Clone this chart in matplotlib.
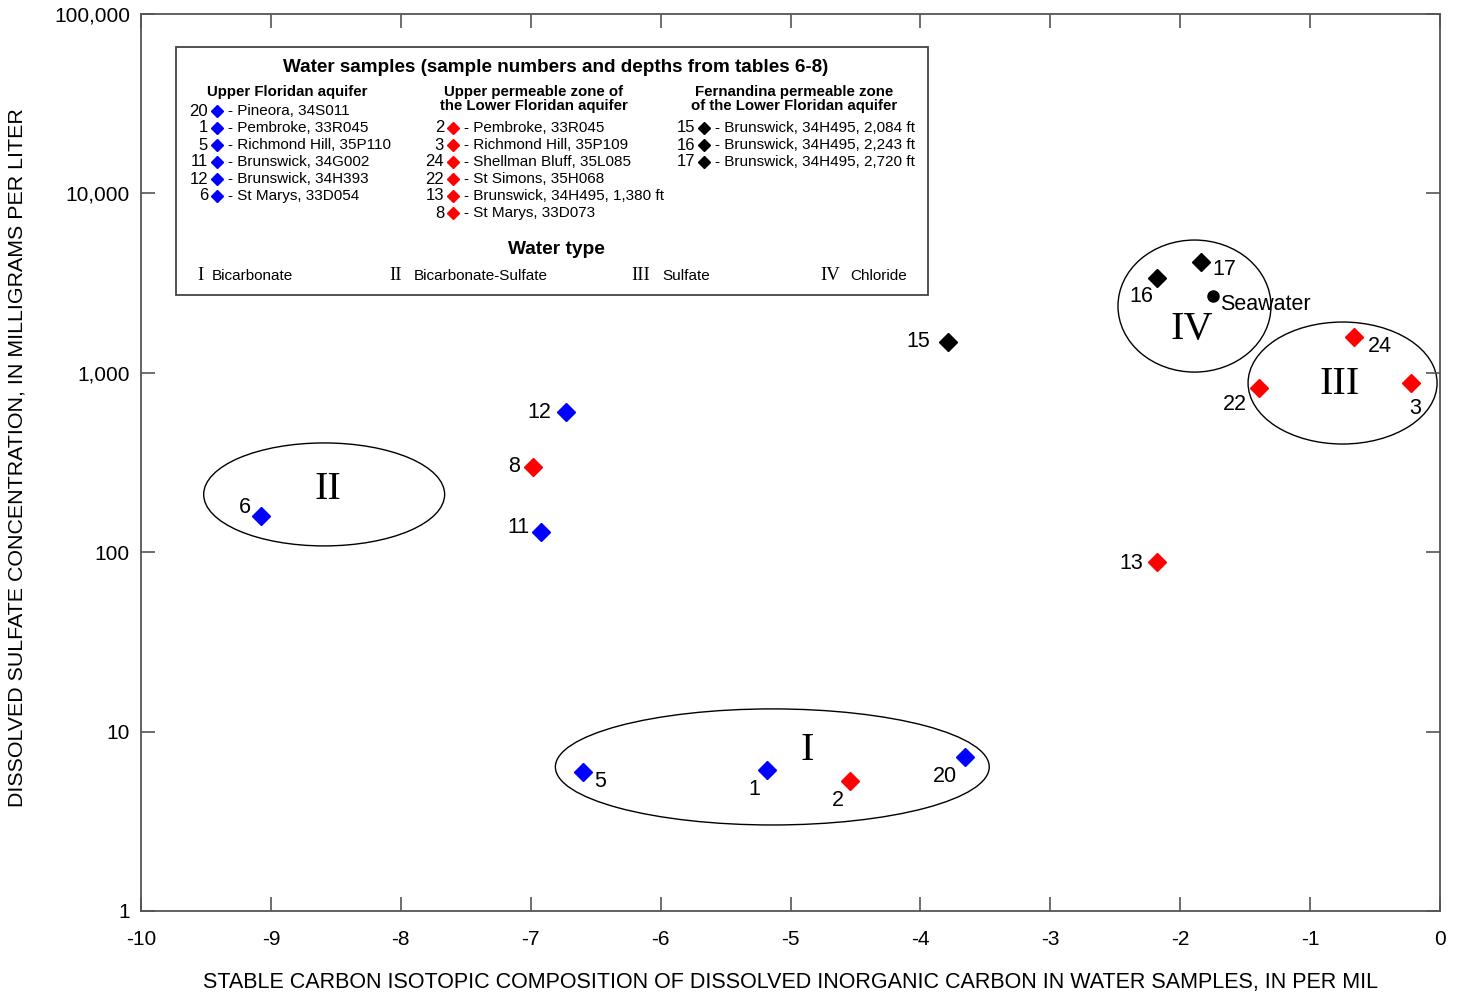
import numpy as np
import matplotlib
matplotlib.use("Agg")
import matplotlib.pyplot as plt
from matplotlib.patches import Ellipse, Rectangle
from matplotlib.transforms import Affine2D

plt.rcParams['font.family'] = ['Liberation Sans', 'DejaVu Sans']

# sample data: delta13C (per mil), sulfate (mg/L)
upper_ids = ["20", "1", "5", "11", "12", "6"]
upper_names = ["Pineora, 34S011", "Pembroke, 33R045", "Richmond Hill, 35P110",
               "Brunswick, 34G002", "Brunswick, 34H393", "St Marys, 33D054"]
upper_x = [-3.66, -5.18, -6.60, -6.92, -6.73, -9.08]
upper_y = [7.2, 6.1, 5.96, 130, 604, 159]

lower_ids = ["2", "3", "24", "22", "13", "8"]
lower_names = ["Pembroke, 33R045", "Richmond Hill, 35P109", "Shellman Bluff, 35L085",
               "St Simons, 35H068", "Brunswick, 34H495, 1,380 ft", "St Marys, 33D073"]
lower_x = [-4.54, -0.22, -0.66, -1.39, -2.18, -6.98]
lower_y = [5.3, 877, 1585, 823, 88, 298]

fern_ids = ["15", "16", "17"]
fern_names = ["Brunswick, 34H495, 2,084 ft", "Brunswick, 34H495, 2,243 ft",
              "Brunswick, 34H495, 2,720 ft"]
fern_x = [-3.79, -2.18, -1.84]
fern_y = [1485, 3377, 4150]

sea_x, sea_y = -1.75, 2680

# water-type groups: center x, center log10(y), width (per mil), height (decades)
types = ["I", "II", "III", "IV"]
type_names = ["Bicarbonate", "Bicarbonate-Sulfate", "Sulfate", "Chloride"]
ell_cx = [-5.14, -8.59, -0.75, -1.89]
ell_cy = [0.803, 2.322, 2.943, 3.372]
ell_w = [3.34, 1.855, 1.455, 1.178]
ell_h = [0.647, 0.574, 0.68, 0.736]
lab_x = [-4.87, -8.56, -0.77, -1.91]
lab_y = [0.897, 2.352, 2.932, 3.239]

# label offsets in pixels
offs = {"20": (-20, -19), "1": (-13, -19), "5": (17, -10), "2": (-12, -19),
        "6": (-16, 9), "12": (-26, 0), "8": (-19, 1), "11": (-23, 4),
        "15": (-29, 0), "13": (-26, -1), "16": (-16, -19), "17": (23, -8),
        "24": (26, -10), "22": (-25, -17), "3": (4, -25)}

fig = plt.figure(figsize=(14.6, 9.93), dpi=100)
ax = fig.add_axes([141/1460, 82/993, 1299/1460, 897/993])
ax.set_xlim(-10, 0)
ax.set_yscale('log')
ax.set_ylim(1, 100000)
ax.set_xticks(np.arange(-10, 1, 1))
ax.set_xticklabels([str(v) for v in range(-10, 1)])
ax.set_yticks([1, 10, 100, 1000, 10000, 100000])
ax.set_yticklabels(["1", "10", "100", "1,000", "10,000", "100,000"])
ax.yaxis.set_minor_locator(matplotlib.ticker.NullLocator())
ax.tick_params(direction='in', length=10, width=1.2, color='#555555',
               labelsize=15, top=True, right=True, pad=8)
ax.tick_params(axis='x', pad=14)
for s in ax.spines.values():
    s.set_color('#555555')
    s.set_linewidth(1.3)
ax.set_xlabel("STABLE CARBON ISOTOPIC COMPOSITION OF DISSOLVED INORGANIC CARBON IN WATER SAMPLES, IN PER MIL",
              fontsize=15.5, labelpad=16)
ax.set_ylabel("DISSOLVED SULFATE CONCENTRATION, IN MILLIGRAMS PER LITER",
              fontsize=15.4, labelpad=16)
ax.yaxis.set_label_coords(-0.088, 0.505)

# ellipses in (x, log10 y) space mapped to axes fraction
tr = Affine2D().translate(10, 0).scale(0.1, 0.2) + ax.transAxes
for i in range(len(types)):
    ax.add_patch(Ellipse((ell_cx[i], ell_cy[i]), ell_w[i], ell_h[i],
                         transform=tr, fill=False, ec='black', lw=1.0))
    ax.text(lab_x[i], lab_y[i], types[i], transform=tr, ha='center', va='center',
            fontsize=29, family='Liberation Serif')

groups = [(upper_ids, upper_x, upper_y, 'blue'),
          (lower_ids, lower_x, lower_y, 'red'),
          (fern_ids, fern_x, fern_y, 'black')]
for ids, xs, ys, c in groups:
    ax.plot(xs, ys, 'D', color=c, ms=9.5, mec=c, ls='none')
    for n, x, y in zip(ids, xs, ys):
        ax.annotate(n, (x, y), xytext=offs[n], textcoords='offset pixels',
                    ha='center', va='center', fontsize=15.5)
ax.plot([sea_x], [sea_y], 'o', color='black', ms=8)
ax.annotate("Seawater", (sea_x, sea_y), xytext=(7, -9), textcoords='offset pixels',
            ha='left', va='center', fontsize=15.5)

# legend box drawn in its own axes with pixel-like units
lg = fig.add_axes([176/1460, (993-295)/993, 752/1460, 248/993])
lg.set_xlim(0, 752)
lg.set_ylim(248, 0)
lg.axis('off')
lg.add_patch(Rectangle((0, 0), 752, 248, fill=False, ec='#444444', lw=1.3, clip_on=False))
lg.text(380, 21, "Water samples (sample numbers and depths from tables 6-8)",
        ha='center', va='center', fontsize=13.6, fontweight='bold')
lg.text(111, 45, "Upper Floridan aquifer", ha='center', va='center',
        fontsize=10.8, fontweight='bold')
lg.text(358, 52, "Upper permeable zone of\nthe Lower Floridan aquifer", ha='center',
        va='center', fontsize=10.8, fontweight='bold', linespacing=0.95)
lg.text(618, 52, "Fernandina permeable zone\nof the Lower Floridan aquifer", ha='center',
        va='center', fontsize=10.8, fontweight='bold', linespacing=0.95)

cols = [(upper_ids, upper_names, 'blue', 32, 64),
        (lower_ids, lower_names, 'red', 268, 81),
        (fern_ids, fern_names, 'black', 519, 81)]
for ids, names, c, x0, y0 in cols:
    for k, (n, nm) in enumerate(zip(ids, names)):
        yy = y0 + 17 * k
        lg.text(x0, yy, n, ha='right', va='center', fontsize=12)
        lg.plot([x0 + 9], [yy], 'D', color=c, ms=6.5, mec=c)
        lg.text(x0 + 20, yy, "- " + nm, ha='left', va='center', fontsize=11)

lg.text(380, 203, "Water type", ha='center', va='center', fontsize=13.8, fontweight='bold')
roman_x = [24, 220, 465, 654]
name_x = [36, 238, 486, 674]
for i in range(len(types)):
    lg.text(roman_x[i], 228, types[i], ha='center', va='center', fontsize=13.5,
            family='Liberation Serif')
    lg.text(name_x[i], 229, type_names[i], ha='left', va='center', fontsize=11)

fig.savefig("out.png", dpi=100)
